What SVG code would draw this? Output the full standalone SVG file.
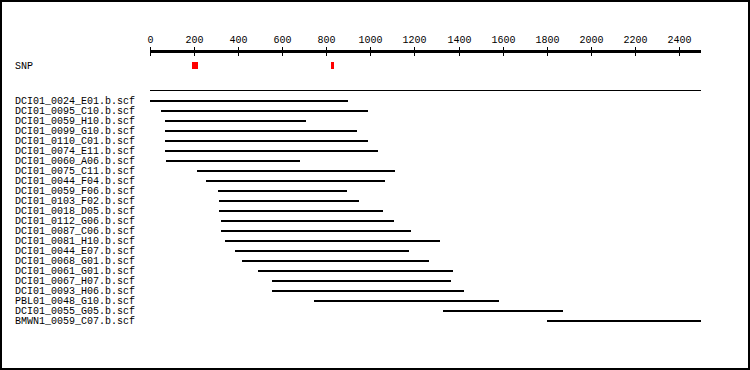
<svg xmlns="http://www.w3.org/2000/svg" width="750" height="370" viewBox="0 0 750 370">
<style>
text{font-family:"Liberation Mono","DejaVu Sans Mono",monospace;font-size:10px;fill:#000}
.tick text{text-anchor:middle}
.read{fill:#000}
.snp{fill:#ff0000}
</style>
<rect x="0" y="0" width="750" height="370" fill="#fff"/>
<rect x="1" y="1" width="748" height="368" fill="none" stroke="#000" stroke-width="2"/>
<g id="axis">
<rect x="150" y="50" width="551" height="3" fill="#000"/>
<g class="tick" fill="#000">
<rect x="150" y="47" width="1" height="9"/><text x="150.5" y="43">0</text>
<rect x="194" y="47" width="1" height="9"/><text x="194.5" y="43">200</text>
<rect x="238" y="47" width="1" height="9"/><text x="238.5" y="43">400</text>
<rect x="282" y="47" width="1" height="9"/><text x="282.5" y="43">600</text>
<rect x="326" y="47" width="1" height="9"/><text x="326.5" y="43">800</text>
<rect x="370" y="47" width="1" height="9"/><text x="370.5" y="43">1000</text>
<rect x="414" y="47" width="1" height="9"/><text x="414.5" y="43">1200</text>
<rect x="459" y="47" width="1" height="9"/><text x="459.5" y="43">1400</text>
<rect x="503" y="47" width="1" height="9"/><text x="503.5" y="43">1600</text>
<rect x="547" y="47" width="1" height="9"/><text x="547.5" y="43">1800</text>
<rect x="591" y="47" width="1" height="9"/><text x="591.5" y="43">2000</text>
<rect x="635" y="47" width="1" height="9"/><text x="635.5" y="43">2200</text>
<rect x="679" y="47" width="1" height="9"/><text x="679.5" y="43">2400</text>
</g>
</g>
<g id="snp">
<text x="15" y="69">SNP</text>
<rect class="snp" x="192" y="62" width="6" height="7"/>
<rect class="snp" x="331" y="62" width="3" height="7"/>
</g>
<rect id="separator" x="150" y="90" width="551" height="1" fill="#000"/>
<g id="reads">
<g id="r1"><text x="15" y="104">DCI01_0024_E01.b.scf</text><rect class="read" x="150" y="100" width="198" height="2"/></g>
<g id="r2"><text x="15" y="114">DCI01_0095_C10.b.scf</text><rect class="read" x="161" y="110" width="207" height="2"/></g>
<g id="r3"><text x="15" y="124">DCI01_0059_H10.b.scf</text><rect class="read" x="165" y="120" width="141" height="2"/></g>
<g id="r4"><text x="15" y="134">DCI01_0099_G10.b.scf</text><rect class="read" x="165" y="130" width="192" height="2"/></g>
<g id="r5"><text x="15" y="144">DCI01_0110_C01.b.scf</text><rect class="read" x="165" y="140" width="203" height="2"/></g>
<g id="r6"><text x="15" y="154">DCI01_0074_E11.b.scf</text><rect class="read" x="165" y="150" width="213" height="2"/></g>
<g id="r7"><text x="15" y="164">DCI01_0060_A06.b.scf</text><rect class="read" x="166" y="160" width="134" height="2"/></g>
<g id="r8"><text x="15" y="174">DCI01_0075_C11.b.scf</text><rect class="read" x="197" y="170" width="198" height="2"/></g>
<g id="r9"><text x="15" y="184">DCI01_0044_F04.b.scf</text><rect class="read" x="206" y="180" width="179" height="2"/></g>
<g id="r10"><text x="15" y="194">DCI01_0059_F06.b.scf</text><rect class="read" x="218" y="190" width="129" height="2"/></g>
<g id="r11"><text x="15" y="204">DCI01_0103_F02.b.scf</text><rect class="read" x="219" y="200" width="140" height="2"/></g>
<g id="r12"><text x="15" y="214">DCI01_0018_D05.b.scf</text><rect class="read" x="219" y="210" width="164" height="2"/></g>
<g id="r13"><text x="15" y="224">DCI01_0112_G06.b.scf</text><rect class="read" x="221" y="220" width="173" height="2"/></g>
<g id="r14"><text x="15" y="234">DCI01_0087_C06.b.scf</text><rect class="read" x="221" y="230" width="190" height="2"/></g>
<g id="r15"><text x="15" y="244">DCI01_0081_H10.b.scf</text><rect class="read" x="225" y="240" width="215" height="2"/></g>
<g id="r16"><text x="15" y="254">DCI01_0044_E07.b.scf</text><rect class="read" x="235" y="250" width="174" height="2"/></g>
<g id="r17"><text x="15" y="264">DCI01_0068_G01.b.scf</text><rect class="read" x="242" y="260" width="187" height="2"/></g>
<g id="r18"><text x="15" y="274">DCI01_0061_G01.b.scf</text><rect class="read" x="258" y="270" width="195" height="2"/></g>
<g id="r19"><text x="15" y="284">DCI01_0067_H07.b.scf</text><rect class="read" x="272" y="280" width="179" height="2"/></g>
<g id="r20"><text x="15" y="294">DCI01_0093_H06.b.scf</text><rect class="read" x="272" y="290" width="192" height="2"/></g>
<g id="r21"><text x="15" y="304">PBL01_0048_G10.b.scf</text><rect class="read" x="314" y="300" width="185" height="2"/></g>
<g id="r22"><text x="15" y="314">DCI01_0055_G05.b.scf</text><rect class="read" x="443" y="310" width="120" height="2"/></g>
<g id="r23"><text x="15" y="324">BMWN1_0059_C07.b.scf</text><rect class="read" x="547" y="320" width="154" height="2"/></g>
</g>
</svg>
